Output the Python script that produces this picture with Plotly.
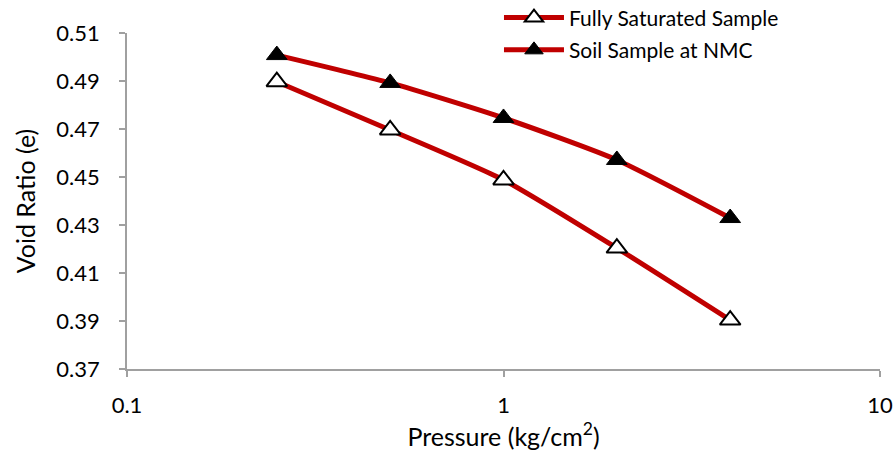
import plotly.graph_objects as go

pressure = [0.25, 0.5, 1, 2, 4]
saturated = [0.4897, 0.4696, 0.4488, 0.4204, 0.3904]
nmc = [0.5008, 0.4892, 0.4746, 0.4571, 0.4329]
y_ticks = [0.37, 0.39, 0.41, 0.43, 0.45, 0.47, 0.49, 0.51]
x_ticks = [0.1, 1, 10]
x_labels = ["0.1", "1", "10"]

red = "#C00000"
axis_gray = "#A0A0A0"
font_family = "Lato, Open Sans, sans-serif"

fig = go.Figure()
fig.add_trace(go.Scatter(
    x=pressure, y=saturated, name="Fully Saturated Sample", legendgroup="a",
    mode="lines+markers", line=dict(color=red, width=5, shape="spline", smoothing=0.6),
    marker=dict(symbol="triangle-up", size=18, color="white", line=dict(color="black", width=2)),
))
fig.add_trace(go.Scatter(
    x=pressure, y=nmc, name="Soil Sample at NMC", legendgroup="b",
    mode="lines+markers", line=dict(color=red, width=5, shape="spline", smoothing=0.6),
    marker=dict(symbol="triangle-up", size=18, color="black", line=dict(color="black", width=1)),
))

fig.update_layout(
    width=893, height=457,
    margin=dict(l=127, r=13, t=33, b=88, autoexpand=False),
    paper_bgcolor="white", plot_bgcolor="white",
    font=dict(family=font_family, size=22, color="black"),
    showlegend=True,
    legend=dict(x=0.494, y=1.106, xanchor="left", yanchor="top",
                bgcolor="rgba(0,0,0,0)", font=dict(size=21),
                tracegroupgap=2, itemwidth=60),
    xaxis=dict(
        type="log", range=[-1, 1], tickvals=x_ticks, ticktext=x_labels,
        showgrid=False, zeroline=False, showline=True, linecolor=axis_gray, linewidth=1.5,
        ticks="outside", ticklen=6, tickcolor=axis_gray, tickwidth=1.5,
        ticklabelstandoff=10,
        title=dict(text="Pressure (kg/cm<sup>2</sup>)", font=dict(size=25), standoff=10),
    ),
    yaxis=dict(
        range=[0.37, 0.51], tickvals=y_ticks, tickformat=".2f",
        showgrid=False, zeroline=False, showline=True, linecolor=axis_gray, linewidth=1.5,
        ticks="outside", ticklen=6, tickcolor=axis_gray, tickwidth=1.5,
        ticklabelstandoff=15,
        title=dict(text="Void Ratio (e)", font=dict(size=25), standoff=14),
    ),
)

fig.write_html(
    "out.html",
    config={"displayModeBar": False},
    post_script="document.body.style.margin='0';document.body.style.overflow='hidden';",
)
